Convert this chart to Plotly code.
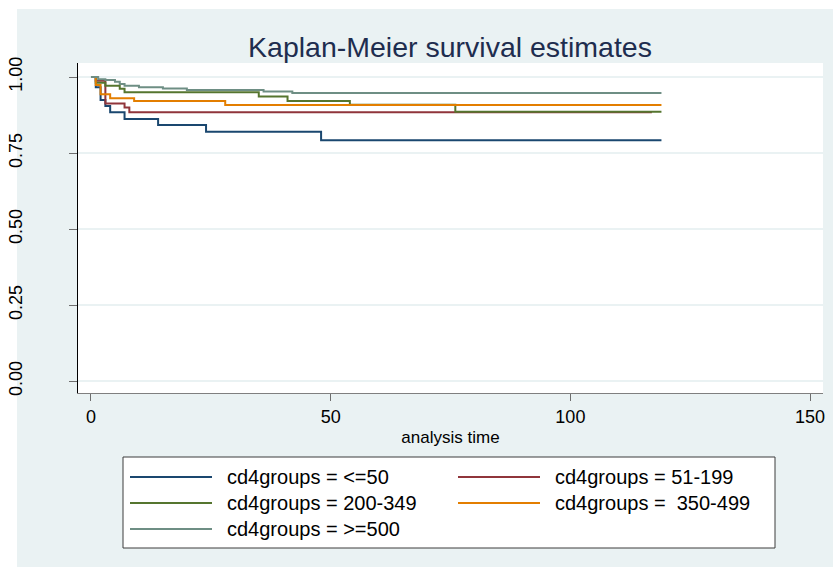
import plotly.graph_objects as go

# ---- data ----
group_names = ["cd4groups = <=50", "cd4groups = 51-199", "cd4groups = 200-349",
               "cd4groups =  350-499", "cd4groups = >=500"]
colors = ["#1A476F", "#90353B", "#55752F", "#E37E00", "#6E8E84"]

t_le50 = [0, 1, 2, 3, 4, 7, 14, 24, 48, 119]
s_le50 = [1.0, 0.966, 0.924, 0.905, 0.884, 0.862, 0.842, 0.820, 0.792, 0.792]

t_51_199 = [0, 1, 3, 7, 8, 117]
s_51_199 = [1.0, 0.988, 0.913, 0.900, 0.884, 0.884]

t_200_349 = [0, 1, 3, 6, 7, 35, 41, 54, 76, 119]
s_200_349 = [1.0, 0.981, 0.971, 0.961, 0.950, 0.936, 0.921, 0.909, 0.886, 0.886]

t_350_499 = [0, 1, 2, 4, 9, 28, 119]
s_350_499 = [1.0, 0.974, 0.943, 0.930, 0.921, 0.908, 0.908]

t_ge500 = [0, 1.5, 3, 5, 6, 7, 10, 15, 20, 36, 42, 119]
s_ge500 = [1.0, 0.993, 0.990, 0.984, 0.977, 0.971, 0.966, 0.962, 0.957, 0.952, 0.947, 0.947]

times = [t_le50, t_51_199, t_200_349, t_350_499, t_ge500]
survs = [s_le50, s_51_199, s_200_349, s_350_499, s_ge500]

x_ticks = [0, 50, 100, 150]
y_ticks = [0, 0.25, 0.5, 0.75, 1.0]
y_ticktext = ["0.00", "0.25", "0.50", "0.75", "1.00"]

# ---- geometry ----
W, H = 833, 567
L, R, T, B = 78, 823, 63, 393
BG = "#EAF2F3"
FONT = "Liberation Sans, Arial, sans-serif"


def xp(px):
    return (px - L) / (R - L)


def yp(py):
    return (B - py) / (B - T)


fig = go.Figure()
for name, c, t, s in zip(group_names, colors, times, survs):
    fig.add_trace(go.Scatter(x=t, y=s, mode="lines", name=name,
                             line=dict(color=c, width=2, shape="hv"),
                             showlegend=False))

shapes = []
# white outer strips (left and top)
shapes.append(dict(type="rect", xref="paper", yref="paper", layer="below",
                   x0=xp(-20), x1=xp(17), y0=yp(H + 20), y1=yp(-20),
                   fillcolor="white", line=dict(width=0)))
shapes.append(dict(type="rect", xref="paper", yref="paper", layer="below",
                   x0=xp(-20), x1=xp(W + 20), y0=yp(9), y1=yp(-20),
                   fillcolor="white", line=dict(width=0)))
# legend box
shapes.append(dict(type="rect", xref="paper", yref="paper", layer="above",
                   x0=xp(123), x1=xp(775), y0=yp(548), y1=yp(457),
                   fillcolor="white", line=dict(color="#3c3c3c", width=1)))

annotations = []
col_line_x = [(130, 212), (458, 540)]
col_text_x = [225, 553]
row_y = [477, 503, 529]
for i, (name, c) in enumerate(zip(group_names, colors)):
    row, col = divmod(i, 2)
    x0, x1 = col_line_x[col]
    yy = row_y[row]
    shapes.append(dict(type="line", xref="paper", yref="paper", layer="above",
                       x0=xp(x0), x1=xp(x1), y0=yp(yy), y1=yp(yy),
                       line=dict(color=c, width=2)))
    annotations.append(dict(xref="paper", yref="paper", x=xp(col_text_x[col]), y=yp(yy),
                            xanchor="left", yanchor="middle", showarrow=False,
                            text=name, font=dict(family=FONT, size=20, color="black")))

fig.update_layout(
    width=W, height=H,
    margin=dict(l=L, r=W - R, t=T, b=H - B, pad=0, autoexpand=False),
    paper_bgcolor=BG, plot_bgcolor="white",
    font=dict(family=FONT, color="black"),
    title=dict(text="Kaplan-Meier survival estimates", x=xp(450), xref="paper",
               y=1 - 47 / H, yref="container", xanchor="center", yanchor="middle",
               font=dict(family=FONT, size=28.5, color="#1E2D4F")),
    shapes=shapes, annotations=annotations,
    xaxis=dict(range=[-2.71, 152.7], tickvals=x_ticks, ticks="outside", ticklen=7,
               tickcolor="#6e6e6e", tickwidth=1, showline=True, linecolor="#7f7f7f",
               linewidth=1, showgrid=False, zeroline=False, automargin=False,
               tickfont=dict(family=FONT, size=18, color="black"),
               ticklabelstandoff=0,
               title=dict(text="analysis time", standoff=5,
                          font=dict(family=FONT, size=17, color="black"))),
    yaxis=dict(range=[-0.0385, 1.046], tickvals=y_ticks, ticktext=y_ticktext,
               tickangle=-90, ticks="outside", ticklen=8, tickcolor="#6e6e6e",
               tickwidth=1, showline=True, linecolor="black", linewidth=1,
               showgrid=True, gridcolor=BG, gridwidth=2, zeroline=False,
               automargin=False,
               tickfont=dict(family=FONT, size=18, color="black"),
               ticklabelstandoff=40),
)

fig.write_html("out.html",
               config={"displayModeBar": False},
               post_script="document.body.style.margin='0';"
                           "document.body.style.overflow='hidden';")
